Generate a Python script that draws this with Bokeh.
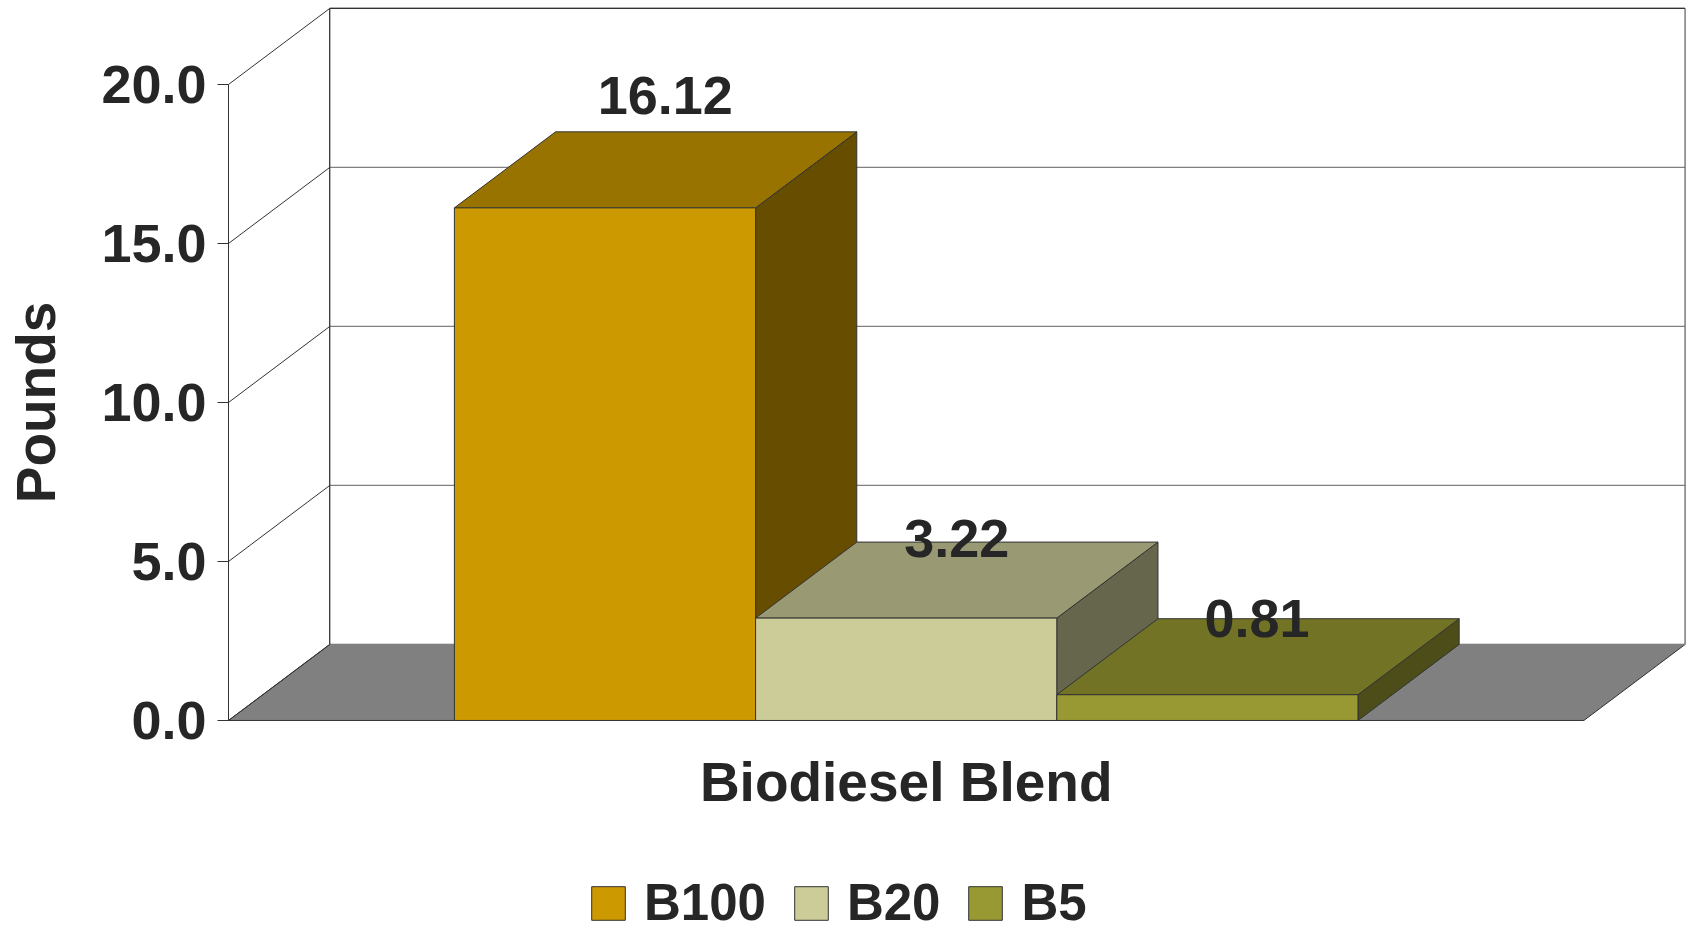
import math
from bokeh.plotting import figure
from bokeh.models import FixedTicker, Legend, LegendItem, Label, Range1d
from bokeh.embed import file_html
from bokeh.resources import INLINE
from bokeh.core.properties import value

# ---------------- data ----------------
CATEGORIES = ["B100", "B20", "B5"]
VALUES = [16.12, 3.22, 0.81]
VALUE_LABELS = ["16.12", "3.22", "0.81"]
Y_TICKS = [0, 5, 10, 15, 20]
Y_TICK_LABELS = ["0.0", "5.0", "10.0", "15.0", "20.0"]
Y_MAX = 20
X_TITLE = "Biodiesel Blend"
Y_TITLE = "Pounds"

# ---------------- styles ----------------
FRONT_COLORS = ["#CC9900", "#CCCC99", "#999933"]
TOP_COLORS = ["#997300", "#999973", "#737326"]
SIDE_COLORS = ["#664D00", "#66664D", "#4D4D1A"]
FLOOR_COLOR = "#808080"
EDGE = "#333333"
GRID = "#808080"
TEXT = "#262626"
FONT = "Liberation Sans"
LABEL_DX = [0.2, 0.168, 0.165]   # label placement tweaks (category units)
LABEL_DY = [1.15, 0.12, 0.01]    # label placement tweaks (value units)

# ---------------- 3D geometry (category / value units) ----------------
BAR_W = 1.0
GAP = 0.75
N = len(CATEGORIES)
X_SPAN = 2 * GAP + N * BAR_W
DX = 0.336
DY = 2.39

x0 = [GAP + i * BAR_W for i in range(N)]
x1 = [a + BAR_W for a in x0]

p = figure(width=1690, height=932,
           x_range=Range1d(-0.757, 4.854), y_range=Range1d(-6.667, 22.64),
           output_backend="svg", toolbar_location=None, x_axis_type=None,
           min_border_left=0, min_border_right=0, min_border_top=0, min_border_bottom=0)
p.outline_line_color = None
p.grid.visible = False
p.background_fill_color = "white"
p.border_fill_color = "white"

ax = p.yaxis[0]
ax.fixed_location = 0
ax.ticker = FixedTicker(ticks=Y_TICKS)
ax.major_label_overrides = {t: s for t, s in zip(Y_TICKS, Y_TICK_LABELS)}
ax.bounds = (0, Y_MAX)
ax.minor_tick_line_color = None
ax.major_tick_in = 0
ax.major_tick_out = 11
ax.axis_line_color = EDGE
ax.major_tick_line_color = EDGE
ax.major_label_text_font = FONT
ax.major_label_text_font_style = "bold"
ax.major_label_text_font_size = "54px"
ax.major_label_text_color = TEXT
ax.major_label_standoff = 11

# floor
p.patch([0, X_SPAN, X_SPAN + DX, DX], [0, 0, DY, DY],
        fill_color=FLOOR_COLOR, line_color=EDGE, line_width=1)

# back wall gridlines
p.segment(x0=[DX] * len(Y_TICKS), y0=[t + DY for t in Y_TICKS],
          x1=[X_SPAN + DX] * len(Y_TICKS), y1=[t + DY for t in Y_TICKS],
          line_color=GRID, line_width=1.3)
# back wall edges
p.segment(x0=[DX, X_SPAN + DX, DX], y0=[DY, DY, Y_MAX + DY],
          x1=[DX, X_SPAN + DX, X_SPAN + DX], y1=[Y_MAX + DY, Y_MAX + DY, Y_MAX + DY],
          line_color=[EDGE, "#666666", EDGE], line_width=1.3)
# diagonal side-wall lines
p.segment(x0=[0] * len(Y_TICKS), y0=Y_TICKS,
          x1=[DX] * len(Y_TICKS), y1=[t + DY for t in Y_TICKS],
          line_color=EDGE, line_width=1)

# bars: side, top, front
p.patches(xs=[[b, b + DX, b + DX, b] for b in x1],
          ys=[[0, DY, v + DY, v] for v in VALUES],
          fill_color=SIDE_COLORS, line_color=EDGE, line_width=1)
p.patches(xs=[[a, b, b + DX, a + DX] for a, b in zip(x0, x1)],
          ys=[[v, v, v + DY, v + DY] for v in VALUES],
          fill_color=TOP_COLORS, line_color=EDGE, line_width=1)
front = p.quad(left=x0, right=x1, bottom=[0] * N, top=VALUES,
               fill_color=FRONT_COLORS, line_color=EDGE, line_width=1)

# value labels
p.text(x=[(a + b) / 2 + d for a, b, d in zip(x0, x1, LABEL_DX)],
       y=[v + DY + d for v, d in zip(VALUES, LABEL_DY)],
       text=VALUE_LABELS, text_font=value(FONT), text_font_style="bold",
       text_font_size="54px", text_align="center", text_baseline="alphabetic",
       text_color=TEXT)

# axis titles
p.add_layout(Label(x=X_SPAN / 2, y=-1.935, text=X_TITLE, text_align="center",
                   text_baseline="middle", text_font=FONT, text_font_style="bold",
                   text_font_size="55px", text_color=TEXT))
p.add_layout(Label(x=-0.64, y=Y_MAX / 2, text=Y_TITLE, angle=math.pi / 2,
                   text_align="center", text_baseline="middle", text_font=FONT,
                   text_font_style="bold", text_font_size="55px", text_color=TEXT))

# legend
legend = Legend(items=[LegendItem(label=c, renderers=[front], index=i)
                       for i, c in enumerate(CATEGORIES)],
                orientation="horizontal", location=(587, 0),
                glyph_width=42, glyph_height=42, label_standoff=15, spacing=24,
                padding=0, margin=0, border_line_color=None,
                background_fill_alpha=0,
                label_text_font=FONT, label_text_font_style="bold",
                label_text_font_size="51px", label_text_color=TEXT)
p.add_layout(legend)

open("out.html", "w").write(file_html(p, INLINE))
